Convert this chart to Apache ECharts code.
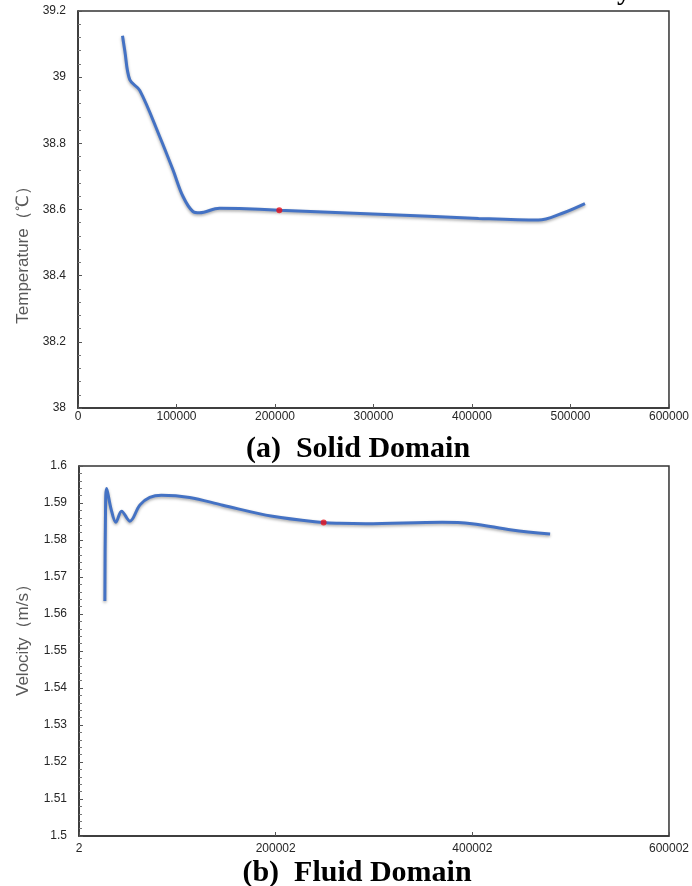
<!DOCTYPE html>
<html>
<head>
<meta charset="utf-8">
<script src="https://cdn.jsdelivr.net/npm/echarts@6/dist/echarts.min.js"></script>
<style>
html,body{margin:0;padding:0;background:#fff;}
#c{width:692px;height:886px;}
</style>
</head>
<body>
<div id="c"></div>
<script>
// ---- (a) Solid Domain : temperature ----
const solidX = [45200, 47500, 52600, 62700, 83000, 96400, 106500, 116700, 123400, 143700, 163900, 204400, 305600, 406700, 467400, 491000, 514700];
const solidT = [39.125, 39.08, 38.992, 38.96, 38.82, 38.72, 38.64, 38.594, 38.590, 38.604, 38.603, 38.598, 38.586, 38.573, 38.568, 38.588, 38.618];
const solidMarkX = [204400];
const solidMarkT = [38.598];
const solidYTicks = [38, 38.2, 38.4, 38.6, 38.8, 39, 39.2];
const solidXTicks = ['0', '100000', '200000', '300000', '400000', '500000', '600000'];

// ---- (b) Fluid Domain : velocity ----
const fluidX = [26300, 26900, 28100, 32500, 37500, 43300, 51700, 62000, 72000, 83800, 112500, 146200, 196900, 248800, 264500, 291600, 369200, 399600, 440200, 479100];
const fluidV = [1.5635, 1.586, 1.5939, 1.5885, 1.5848, 1.5878, 1.5851, 1.5895, 1.5915, 1.5921, 1.5915, 1.5894, 1.5864, 1.5847, 1.5845, 1.5844, 1.5848, 1.5844, 1.5827, 1.5816];
const fluidMarkX = [248800];
const fluidMarkV = [1.5847];
const fluidYTicks = [1.5, 1.51, 1.52, 1.53, 1.54, 1.55, 1.56, 1.57, 1.58, 1.59, 1.6];
const fluidXTicks = ['2', '200002', '400002', '600002'];

const zip = (a, b) => a.map((v, i) => [v, b[i]]);

const chart = echarts.init(document.getElementById('c'), null, {renderer: 'canvas'});
const lblFont = {color: '#262626', fontSize: 12, fontFamily: 'Liberation Sans, Arial, sans-serif'};
const axisLineStyle = {lineStyle: {color: '#333', width: 1.5}};
const lineColor = '#4472C4';

function xAxisCfg(gridIndex, min, max, interval, labels, margin) {
  return {
    type: 'value', gridIndex, min, max, interval,
    axisLine: {show: true, onZero: false, ...axisLineStyle},
    axisTick: {show: true, inside: true, length: 4, lineStyle: {color: '#555'}},
    minorTick: {show: false},
    splitLine: {show: false},
    axisLabel: {...lblFont, margin, formatter: (v) => labels[Math.round((v - min) / interval)] ?? ''}
  };
}
function yAxisCfg(gridIndex, ticks, decimals) {
  const min = ticks[0], max = ticks[ticks.length - 1];
  return {
    type: 'value', gridIndex, min, max, interval: ticks[1] - ticks[0],
    axisLine: {show: true, onZero: false, ...axisLineStyle},
    axisTick: {show: true, inside: true, length: 4, lineStyle: {color: '#555'}},
    minorTick: {show: true, splitNumber: 5, length: 3, lineStyle: {color: '#777'}},
    splitLine: {show: false},
    axisLabel: {...lblFont, margin: 12, formatter: (v) => String(parseFloat(v.toFixed(decimals)))}
  };
}

const lineSeries = (xi, data) => ({
  type: 'line', xAxisIndex: xi, yAxisIndex: xi, data, smooth: 0.35, showSymbol: false,
  lineStyle: {color: lineColor, width: 3, shadowColor: 'rgba(0,0,0,0.35)', shadowBlur: 3, shadowOffsetY: 1.5},
  z: 2, animation: false
});
const dotSeries = (xi, data) => ({
  type: 'scatter', xAxisIndex: xi, yAxisIndex: xi, data, symbolSize: 6,
  itemStyle: {color: '#e8101a'}, z: 3, animation: false
});

const capFont = 'bold 30px "Liberation Serif", "Times New Roman", serif';
const titleFont = '17px "Liberation Sans", Arial, sans-serif';

chart.setOption({
  backgroundColor: '#fff',
  animation: false,
  grid: [
    {left: 78, top: 11, width: 594, height: 397, show: true, borderColor: '#333', borderWidth: 1.5, backgroundColor: '#fff'},
    {left: 79, top: 466, width: 592, height: 370, show: true, borderColor: '#333', borderWidth: 1.5, backgroundColor: '#fff'}
  ],
  xAxis: [
    xAxisCfg(0, 0, 600000, 100000, solidXTicks, 3),
    xAxisCfg(1, 0, 600000, 200000, fluidXTicks, 7)
  ],
  yAxis: [
    yAxisCfg(0, solidYTicks, 1),
    yAxisCfg(1, fluidYTicks, 2)
  ],
  series: [
    lineSeries(0, zip(solidX, solidT)),
    dotSeries(0, zip(solidMarkX, solidMarkT)),
    lineSeries(1, zip(fluidX, fluidV)),
    dotSeries(1, zip(fluidMarkX, fluidMarkV))
  ],
  graphic: [
    {type: 'text', x: 358, y: 449, style: {text: '(a)  Solid Domain', font: capFont, fill: '#000', textAlign: 'center', textVerticalAlign: 'middle'}},
    {type: 'text', x: 357, y: 873, style: {text: '(b)  Fluid Domain', font: capFont, fill: '#000', textAlign: 'center', textVerticalAlign: 'middle'}},
    {type: 'text', x: 23, y: 251, rotation: Math.PI / 2, style: {text: 'Temperature（℃）', font: titleFont, fill: '#595959', textAlign: 'center', textVerticalAlign: 'middle'}},
    {type: 'text', x: 23, y: 636, rotation: Math.PI / 2, style: {text: 'Velocity（m/s）', font: titleFont, fill: '#595959', textAlign: 'center', textVerticalAlign: 'middle'}},
    {type: 'text', x: 624, y: 6, style: {text: 'y', font: 'bold 28px "Liberation Serif", serif', fill: '#000', textAlign: 'center', textVerticalAlign: 'bottom'}}
  ]
});
</script>
</body>
</html>
